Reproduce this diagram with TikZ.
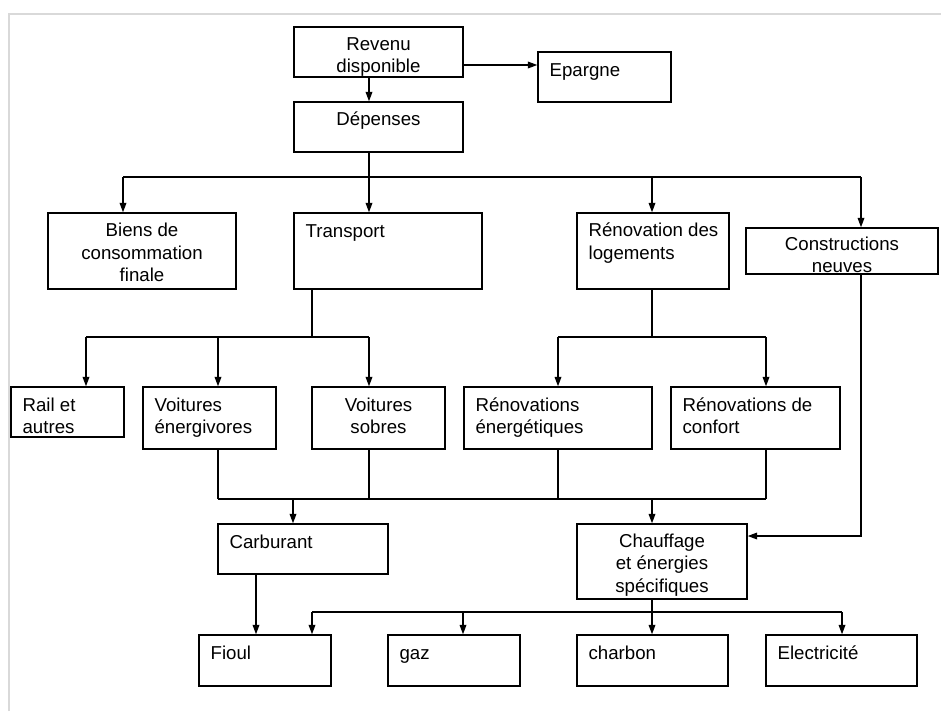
\documentclass[tikz,border=0pt]{standalone}
\usepackage{fontspec}
\setmainfont{Liberation Sans}
\usepackage{tikz}
\usetikzlibrary{arrows.meta,fit}

\definecolor{framegray}{RGB}{217,217,217}

\tikzset{
  box/.style={draw, line width=1.1pt, inner sep=0pt},
  arr/.style={-{Triangle[length=7pt,width=5pt]}},
  txtl/.style={anchor=base west, inner sep=0pt, align=left},
  txtc/.style={anchor=base, inner sep=0pt, align=center},
}

\begin{document}
\begin{tikzpicture}[x=0.75pt,y=0.75pt,yscale=-1,xscale=1,line width=0.9pt,
  every node/.append style={font=\fontsize{14}{16.7}\selectfont}]
\useasboundingbox (0,0) rectangle (941,711);

%Frame
\draw[framegray, line width=1.5pt] (9,711) -- (9,14) -- (941,14);

%Shape: Rectangles
\node[box, fit={(294,27) (463,77)}] (revenu) {};
\node[box, fit={(538,52) (671,102)}] (epargne) {};
\node[box, fit={(294,102) (463,152)}] (depenses) {};
\node[box, fit={(48,213) (236,289)}] (biens) {};
\node[box, fit={(294,213) (482,289)}] (transport) {};
\node[box, fit={(577,213) (729,289)}] (renov) {};
\node[box, fit={(746,228) (938,274)}] (constr) {};
\node[box, fit={(11,387) (124,437)}] (rail) {};
\node[box, fit={(143,387) (276,449)}] (voitE) {};
\node[box, fit={(312,387) (445,449)}] (voitS) {};
\node[box, fit={(464,387) (652,449)}] (renE) {};
\node[box, fit={(671,387) (840,449)}] (renC) {};
\node[box, fit={(218,524) (388,574)}] (carbu) {};
\node[box, fit={(577,524) (747,599)}] (chauff) {};
\node[box, fit={(199,635) (331,686)}] (fioul) {};
\node[box, fit={(388,635) (520,686)}] (gaz) {};
\node[box, fit={(577,635) (728,686)}] (charbon) {};
\node[box, fit={(766,635) (917,686)}] (elec) {};

% Text Node (placed at the baseline of the last line)
\node[txtc] (tRevenu) at (378.5,72.8) {Revenu\\disponible};
\node[txtl] (tEpargne) at (549,76) {Epargne};
\node[txtc] (tDepenses) at (378.5,125) {Dépenses};
\node[txtc] (tBiens) at (142,281.5) {Biens de\\consommation\\finale};
\node[txtl] (tTransport) at (305,237) {Transport};
\node[txtl] (tRenov) at (588,259) {Rénovation des\\logements};
\node[txtc] (tConstr) at (842,272.7) {Constructions\\neuves};
\node[txtl] (tRail) at (22,433.5) {Rail et\\autres};
\node[txtl] (tVoitE) at (154,433.5) {Voitures\\énergivores};
\node[txtc] (tVoitS) at (378.5,433.5) {Voitures\\sobres};
\node[txtl] (tRenE) at (475,433.5) {Rénovations\\énergétiques};
\node[txtl] (tRenC) at (682,433.5) {Rénovations de\\confort};
\node[txtl] (tCarbu) at (229,548) {Carburant};
\node[txtc] (tChauff) at (662,592) {Chauffage\\et énergies\\spécifiques};
\node[txtl] (tFioul) at (210,659) {Fioul};
\node[txtl] (tGaz) at (399,659) {gaz};
\node[txtl] (tCharbon) at (588,659) {charbon};
\node[txtl] (tElec) at (777,659) {Electricité};

%Junctions
\coordinate (jA1) at (123,177);
\coordinate (jA2) at (369,177);
\coordinate (jA3) at (652,177);
\coordinate (jA4) at (861,177);
\coordinate (jB0) at (312,337);
\coordinate (jB1) at (86,337);
\coordinate (jB2) at (218,337);
\coordinate (jB3) at (369,337);
\coordinate (jC0) at (652,337);
\coordinate (jC1) at (558,337);
\coordinate (jC2) at (766,337);
\coordinate (jD1) at (218,499);
\coordinate (jD2) at (293,499);
\coordinate (jD3) at (369,499);
\coordinate (jD4) at (558,499);
\coordinate (jD5) at (652,499);
\coordinate (jD6) at (766,499);
\coordinate (jE0) at (861,536);
\coordinate (jF0) at (652,612);
\coordinate (jF1) at (312,612);
\coordinate (jF2) at (463,612);
\coordinate (jF3) at (842,612);
\coordinate (jG0) at (256,574);

%Connectors
\draw[arr] (revenu.east |- 0,65) -- (epargne.west |- 0,65);
\draw[arr] (revenu.south -| jA2) -- (depenses.north -| jA2);
\draw (depenses.south -| jA2) -- (jA2);
\draw (jA1) -- (jA4);
\draw[arr] (jA1) -- (jA1 |- biens.north);
\draw[arr] (jA2) -- (jA2 |- transport.north);
\draw[arr] (jA3) -- (jA3 |- renov.north);
\draw[arr] (jA4) -- (jA4 |- constr.north);

\draw (transport.south -| jB0) -- (jB0);
\draw (jB1) -- (jB3);
\draw[arr] (jB1) -- (jB1 |- rail.north);
\draw[arr] (jB2) -- (jB2 |- voitE.north);
\draw[arr] (jB3) -- (jB3 |- voitS.north);

\draw (renov.south -| jC0) -- (jC0);
\draw (jC1) -- (jC2);
\draw[arr] (jC1) -- (jC1 |- renE.north);
\draw[arr] (jC2) -- (jC2 |- renC.north);

\draw (voitE.south -| jD1) -- (jD1);
\draw (voitS.south -| jD3) -- (jD3);
\draw (renE.south -| jD4) -- (jD4);
\draw (renC.south -| jD6) -- (jD6);
\draw (jD1) -- (jD6);
\draw[arr] (jD2) -- (jD2 |- carbu.north);
\draw[arr] (jD5) -- (jD5 |- chauff.north);

\draw[arr] (constr.south -| jE0) -- (jE0) -- (chauff.east |- jE0);

\draw[arr] (carbu.south -| jG0) -- (jG0 |- fioul.north);
\draw (chauff.south -| jF0) -- (jF0);
\draw (jF1) -- (jF3);
\draw[arr] (jF1) -- (jF1 |- fioul.north);
\draw[arr] (jF2) -- (jF2 |- gaz.north);
\draw[arr] (jF0) -- (jF0 |- charbon.north);
\draw[arr] (jF3) -- (jF3 |- elec.north);

\end{tikzpicture}
\end{document}
